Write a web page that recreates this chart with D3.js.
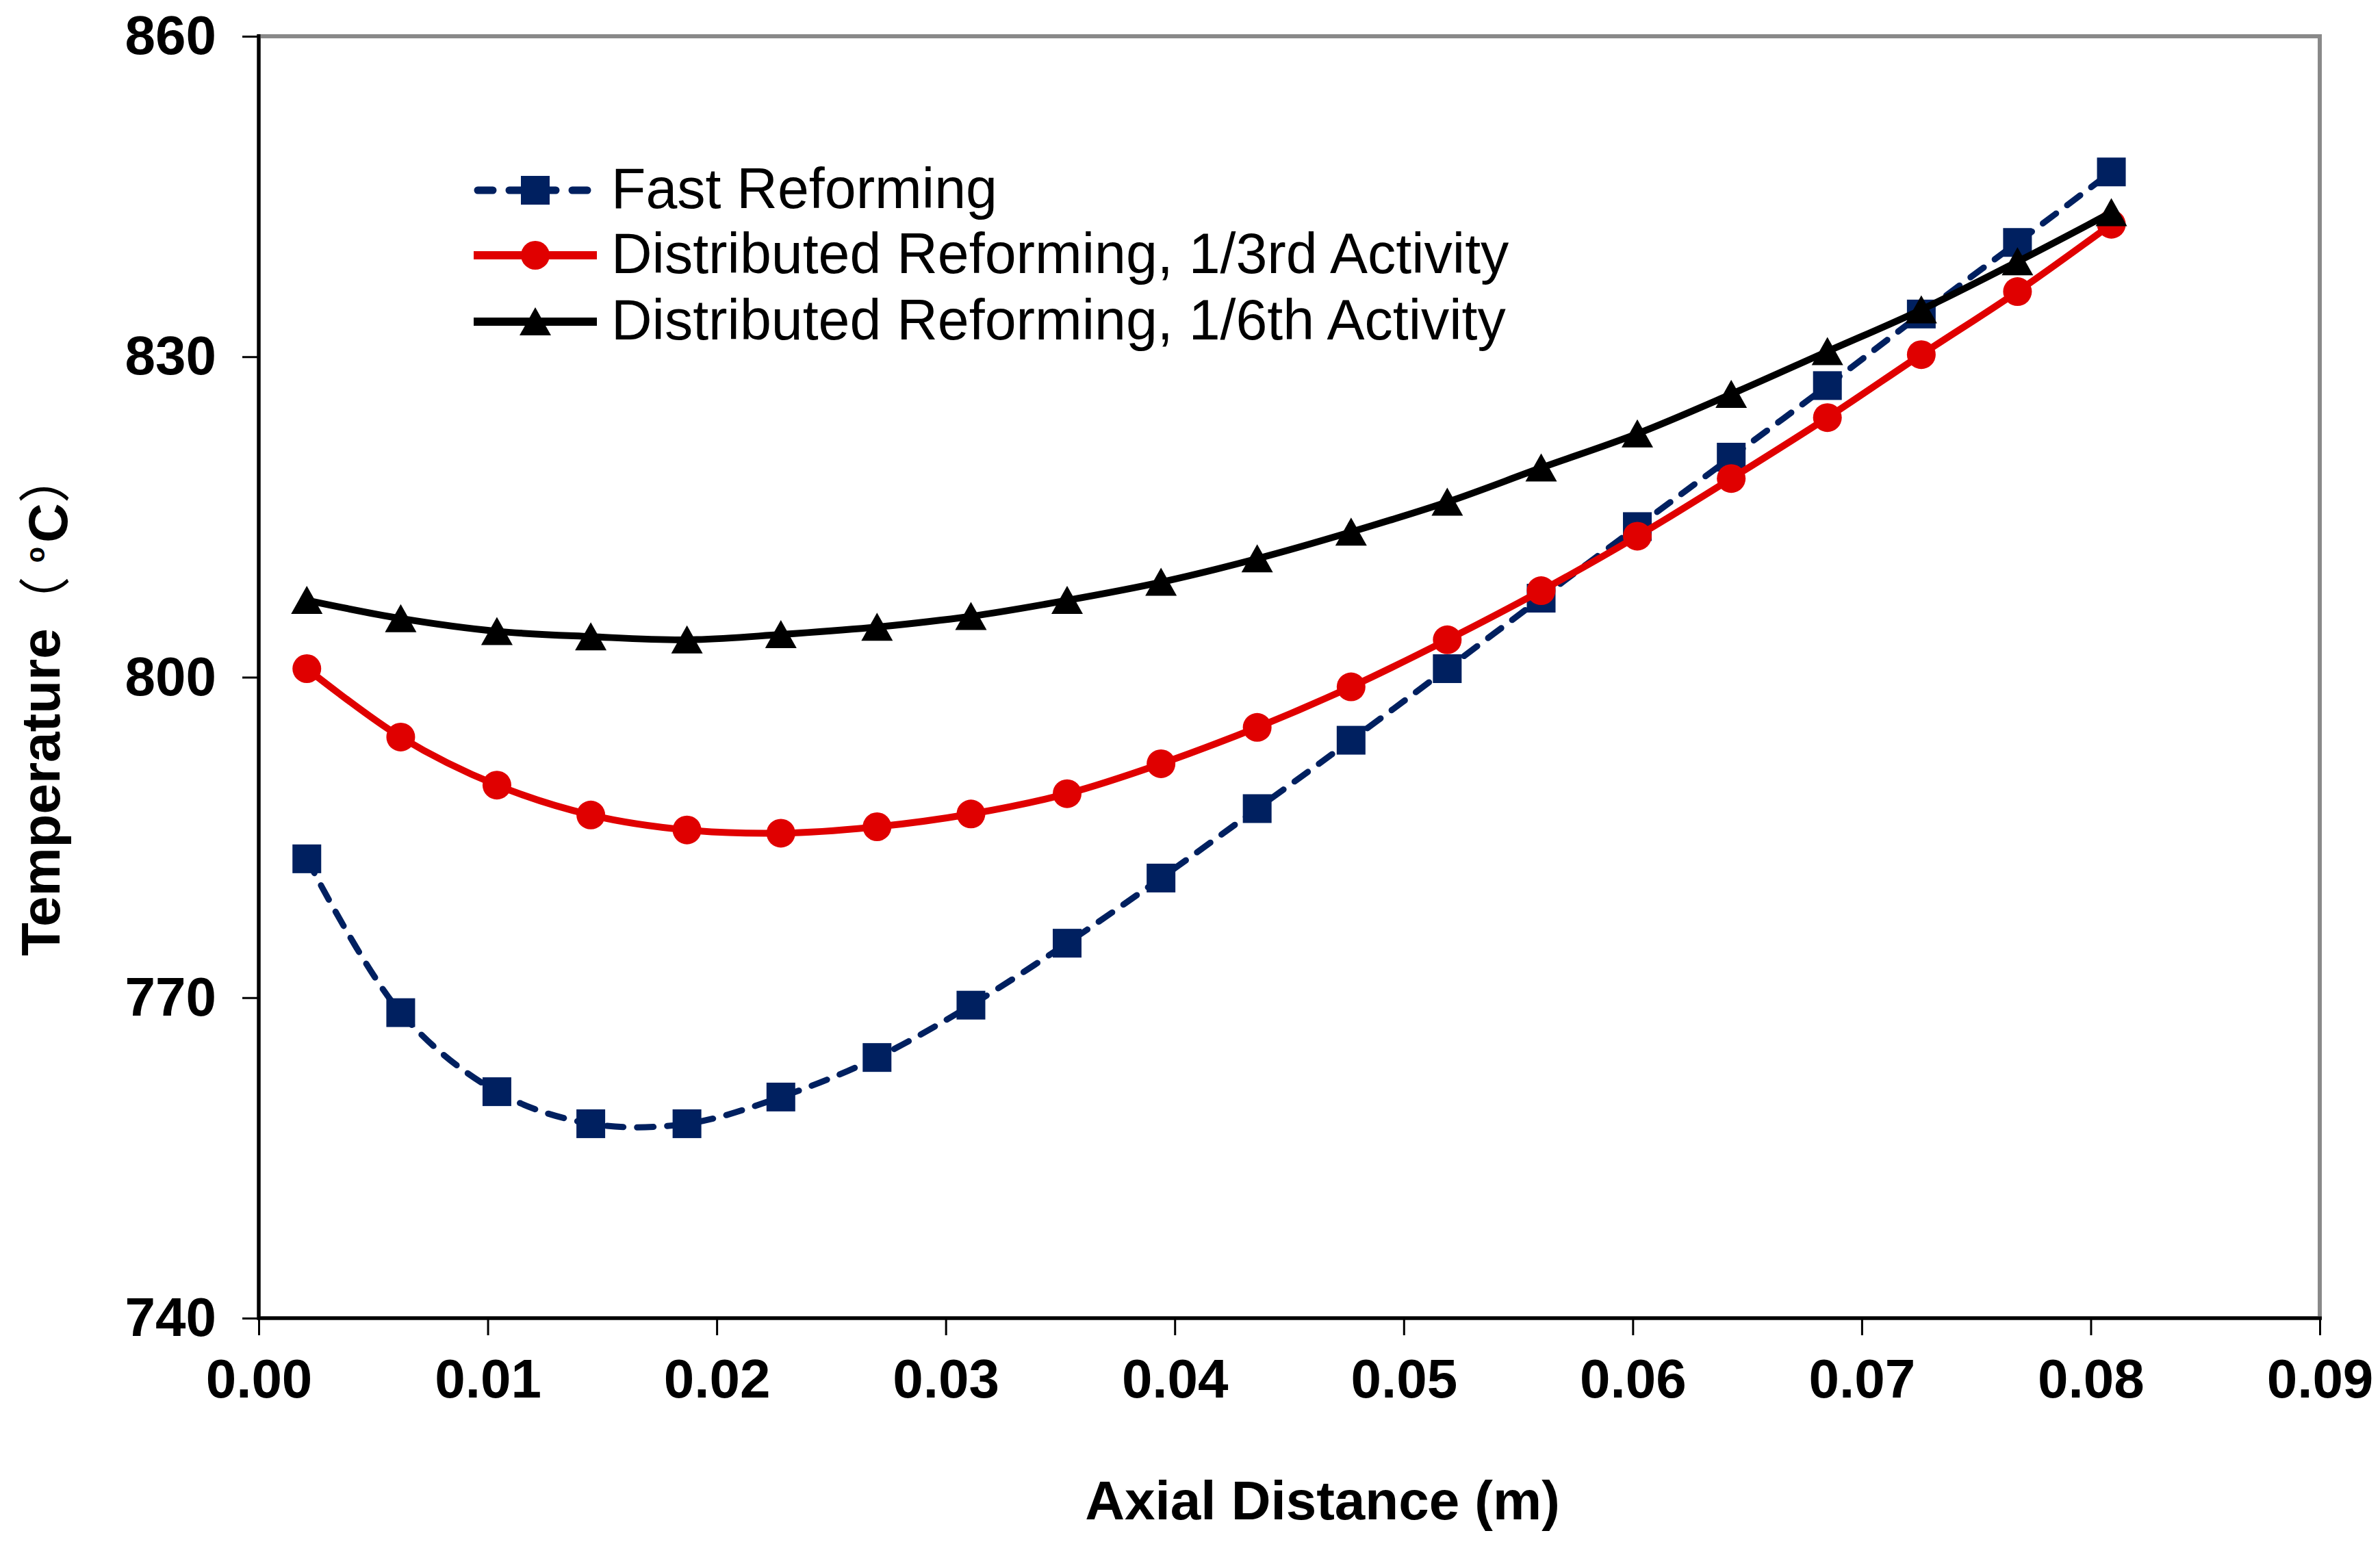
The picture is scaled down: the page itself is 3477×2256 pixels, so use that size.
<!DOCTYPE html>
<html>
<head>
<meta charset="utf-8">
<script src="https://cdn.jsdelivr.net/npm/d3@7"></script>
<style>
  html, body { margin: 0; padding: 0; background: #ffffff; }
  svg { display: block; }
</style>
</head>
<body>
<svg id="chart" width="3477" height="2256"></svg>
<script>
// ---------------- DATA ----------------
const axialDistance = [0.0021, 0.0062, 0.0104, 0.0145, 0.0187, 0.0228, 0.0270, 0.0311, 0.0353, 0.0394,
                       0.0436, 0.0477, 0.0519, 0.0560, 0.0602, 0.0643, 0.0685, 0.0726, 0.0768, 0.0809];
const fastReforming = [783.0, 768.6, 761.2, 758.2, 758.2, 760.7, 764.4, 769.3, 775.1, 781.2,
                       787.7, 794.1, 800.8, 807.4, 814.1, 820.6, 827.3, 834.0, 840.7, 847.3];
const distributed13 = [800.8, 794.4, 789.9, 787.1, 785.7, 785.4, 786.0, 787.2, 789.1, 791.9,
                       795.3, 799.1, 803.5, 808.1, 813.2, 818.6, 824.3, 830.2, 836.1, 842.4];
const distributed16 = [807.2, 805.5, 804.3, 803.8, 803.5, 804.0, 804.7, 805.7, 807.2, 808.9,
                       811.1, 813.6, 816.4, 819.6, 822.8, 826.5, 830.5, 834.4, 838.9, 843.5];
const seriesNames = ["Fast Reforming", "Distributed Reforming, 1/3rd Activity", "Distributed Reforming, 1/6th Activity"];
const xTicks = [0.00, 0.01, 0.02, 0.03, 0.04, 0.05, 0.06, 0.07, 0.08, 0.09];
const yTicks = [740, 770, 800, 830, 860];
const xTitle = "Axial Distance (m)";

// ---------------- LAYOUT ----------------
const L = 378, R = 3389, T = 53, B = 1926;
const svg = d3.select("#chart");
const x = d3.scaleLinear().domain([0, 0.09]).range([L, R]);
const y = d3.scaleLinear().domain([740, 860]).range([B, T]);

const BOLD = "'Liberation Sans', Arial, sans-serif";

// frame
svg.append("rect").attr("x", L).attr("y", T).attr("width", R - L).attr("height", B - T)
  .attr("fill", "none").attr("stroke", "#898989").attr("stroke-width", 6);

// axes
const yAxis = d3.axisLeft(y).tickValues(yTicks).tickSize(24).tickPadding(38).tickFormat(d3.format("d"));
const gy = svg.append("g").attr("transform", `translate(${L},0)`).call(yAxis);
const xAxis = d3.axisBottom(x).tickValues(xTicks).tickSize(25).tickPadding(34).tickFormat(d3.format(".2f"));
const gx = svg.append("g").attr("transform", `translate(0,${B})`).call(xAxis);
[gx, gy].forEach(g => {
  g.select(".domain").remove();
  g.selectAll(".tick line").attr("stroke", "#000").attr("stroke-width", 3);
  g.selectAll(".tick text").attr("fill", "#000").style("font-family", BOLD)
    .style("font-weight", "bold").style("font-size", "80px");
});

// black axis lines (left & bottom)
svg.append("line").attr("x1", L).attr("x2", L).attr("y1", T - 3).attr("y2", B + 2)
  .attr("stroke", "#000").attr("stroke-width", 5);
svg.append("line").attr("x1", L - 2).attr("x2", R + 3).attr("y1", B).attr("y2", B)
  .attr("stroke", "#000").attr("stroke-width", 5);

// ---------------- SERIES ----------------
const series = [
  { name: seriesNames[0], values: fastReforming, color: "#002060", dash: "24,20", width: 9, marker: "square" },
  { name: seriesNames[1], values: distributed13, color: "#E00000", dash: null, width: 10, marker: "circle" },
  { name: seriesNames[2], values: distributed16, color: "#000000", dash: null, width: 10, marker: "triangle" }
];

const line = d3.line().x(d => x(d[0])).y(d => y(d[1])).curve(d3.curveCatmullRom.alpha(0.5));

function drawMarker(g, type, cx, cy, color) {
  if (type === "square") {
    g.append("rect").attr("x", cx - 21).attr("y", cy - 21).attr("width", 42).attr("height", 42).attr("fill", color);
  } else if (type === "circle") {
    g.append("circle").attr("cx", cx).attr("cy", cy).attr("r", 21).attr("fill", color);
  } else {
    g.append("path").attr("d", `M${cx},${cy - 21} L${cx + 23},${cy + 20} L${cx - 23},${cy + 20} Z`).attr("fill", color);
  }
}

series.forEach(s => {
  const pts = axialDistance.map((d, i) => [d, s.values[i]]);
  const g = svg.append("g");
  const p = g.append("path").datum(pts).attr("d", line).attr("fill", "none")
    .attr("stroke", s.color).attr("stroke-width", s.width);
  if (s.dash) p.attr("stroke-dasharray", s.dash).attr("stroke-linecap", "round");
  pts.forEach(d => drawMarker(g, s.marker, x(d[0]), y(d[1]), s.color));
});

// ---------------- LEGEND ----------------
const legendRows = [278, 373, 470];
series.forEach((s, i) => {
  const g = svg.append("g");
  const ly = legendRows[i];
  const l = g.append("line").attr("x1", 692).attr("x2", 872).attr("y1", ly).attr("y2", ly)
    .attr("stroke", s.color).attr("stroke-width", s.width + 2);
  if (s.dash) l.attr("stroke-dasharray", "22,24").attr("stroke-linecap", "round").attr("x1", 698).attr("x2", 866);
  drawMarker(g, s.marker, 782, ly, s.color);
  g.append("text").attr("x", 893).attr("y", ly + 26).text(s.name)
    .style("font-family", "'Liberation Sans', Arial, sans-serif").style("font-size", "82.5px").attr("fill", "#000");
});

// ---------------- TITLES ----------------
svg.append("text").attr("x", 1932).attr("y", 2220).attr("text-anchor", "middle")
  .style("font-family", BOLD).style("font-weight", "bold").style("font-size", "80px").text(xTitle);

const yt = svg.append("text").attr("transform", "translate(87,1397) rotate(-90)")
  .style("font-family", BOLD).style("font-weight", "bold").style("font-size", "80px");
yt.append("tspan").text("Temperature");
yt.append("tspan").attr("dy", 6).style("font-family", "'Noto Sans CJK SC', sans-serif").style("font-weight", "normal").style("font-size", "76px").text("（");
yt.append("tspan").style("font-size", "38px").attr("dx", 20).attr("dy", -28).text("o");
yt.append("tspan").attr("dy", 33).attr("dx", 6).text("C");
yt.append("tspan").attr("dy", -5).style("font-family", "'Noto Sans CJK SC', sans-serif").style("font-weight", "normal").style("font-size", "76px").text("）");
</script>
</body>
</html>
